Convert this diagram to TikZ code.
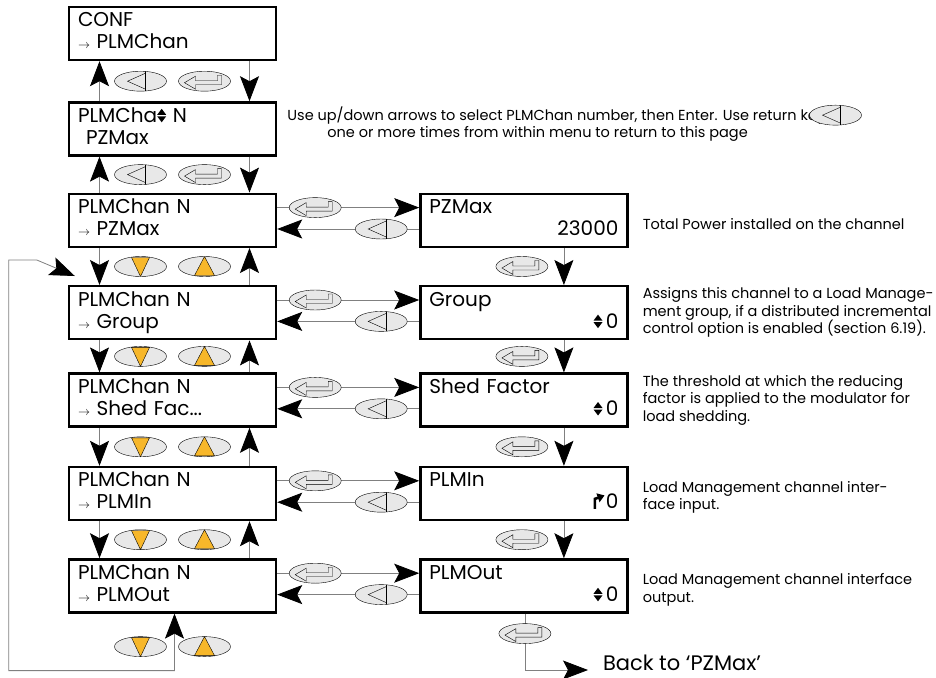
\documentclass[tikz,border=0pt]{standalone}
\usepackage{fontspec}
\setmainfont{Poppins}
\usetikzlibrary{arrows.meta,positioning,shapes.geometric,calc}

\definecolor{keyyellow}{HTML}{F7B72A}
\definecolor{keygray}{HTML}{E8E8E8}
\definecolor{linegray}{HTML}{808080}

\newcommand{\updn}{\tikz[baseline=0pt,x=1pt,y=1pt]{\fill (0,6)--(9,6)--(4.5,0)--cycle; \fill (0,7.5)--(9,7.5)--(4.5,13.5)--cycle;}}
\newcommand{\inarr}{\tikz[baseline=0pt,x=1pt,y=1pt]{\draw[line width=2.6pt,-{Triangle[length=7pt,width=9pt]}] (1.3,0)--(1.3,10)--(11,13.5);}}
\newcommand{\sel}{{\fontsize{13}{13}\selectfont$\rightarrow$}\ }

\begin{document}
\begin{tikzpicture}[
    x=1pt, y=-1pt,
    box/.style={draw, line width=2.4pt, minimum width=207pt, minimum height=53pt, text width=189pt, inner xsep=9pt, align=left, font=\fontsize{20}{22}\selectfont, execute at begin node=\strut, execute at end node=\strut},
    note/.style={inner sep=0pt, align=left, font=\fontsize{14.5}{17.5}\selectfont},
    key/.style={ellipse, draw, thin, fill=keygray, minimum width=52pt, minimum height=20pt, inner sep=0pt},
    backkey/.style={key, path picture={\begin{scope}[shift={(path picture bounding box.center)}]
        \draw[thin] (-13,0) -- (5,-8) -- (5,8) -- cycle; \draw[thin] (5,-12) -- (5,12);
      \end{scope}}},
    enterkey/.style={key, path picture={\begin{scope}[shift={(path picture bounding box.center)}]
        \draw[thin] (-20,1.5) -- (-9,-5) -- (-9,-0.5) -- (13,-0.5) -- (13,-6) -- (17,-6) -- (17,3.5) -- (-9,3.5) -- (-9,8) -- cycle;
      \end{scope}}},
    downkey/.style={key, path picture={\begin{scope}[shift={(path picture bounding box.center)}]
        \filldraw[thin, fill=keyyellow] (-9,-9) -- (9,-9) -- (0,10) -- cycle;
      \end{scope}}},
    upkey/.style={key, path picture={\begin{scope}[shift={(path picture bounding box.center)}]
        \filldraw[thin, fill=keyyellow] (0,-10) -- (-10,9) -- (10,9) -- cycle;
      \end{scope}}},
    tip/.tip={Stealth[length=25pt, width=19pt, inset=5pt, color=black]},
    arrow/.style={draw=linegray, line width=0.8pt, -tip},
    twoarrow/.style={draw=linegray, line width=0.8pt, tip-tip}
  ]
  \useasboundingbox (0,0) rectangle (936,677);

  % menu column
  \node[box] (conf) at (172.5,33.5) {CONF\\\sel PLMChan};
  \node[box, below=40pt of conf] (chan) {PLMCha\updn\ N\\\hspace*{8pt}PZMax};
  \node[box, below=36pt of chan] (pzmax) {PLMChan N\\\sel PZMax};
  \node[box, below=37pt of pzmax] (group) {PLMChan N\\\sel Group};
  \node[box, below=32pt of group] (shed) {PLMChan N\\\sel Shed Fac...};
  \node[box, below=38pt of shed] (plmin) {PLMChan N\\\sel PLMIn};
  \node[box, below=37pt of plmin] (plmout) {PLMChan N\\\sel PLMOut};

  % value column
  \node[box, right=142pt of pzmax] (pzval) {PZMax\\\mbox{}\hfill 23000};
  \node[box, right=142pt of group] (grpval) {Group\\\mbox{}\hfill\updn\,0};
  \node[box, right=142pt of shed] (shedval) {Shed Factor\\\mbox{}\hfill\updn\,0};
  \node[box, right=142pt of plmin] (inval) {PLMIn\\\mbox{}\hfill\inarr0};
  \node[box, right=142pt of plmout] (outval) {PLMOut\\\mbox{}\hfill\updn\,0};

  % notes
  \node[note, right=10pt of chan, yshift=5pt] (hint) {Use up/down arrows to select PLMChan number, then Enter. Use return key\\\hspace*{40pt}one or more times from within menu to return to this page};
  \node[note, right=14pt of pzval, yshift=-4pt] (pznote) {Total Power installed on the channel};
  \node[note, right=14pt of grpval] (grpnote) {Assigns this channel to a Load Manage-\\ment group, if a distributed incremental\\control option is enabled (section 6.19).};
  \node[note, right=14pt of shedval] (shednote) {The threshold at which the reducing\\factor is applied to the modulator for\\load shedding.};
  \node[note, right=14pt of inval, yshift=-4pt] (innote) {Load Management channel inter-\\face input.};
  \node[note, right=14pt of outval, yshift=-4pt] (outnote) {Load Management channel interface\\output.};
  \node[anchor=base west, inner sep=0pt, outer sep=15pt, font=\fontsize{21}{24}\selectfont] (back) at (588,670) {Back to ‘PZMax’};

  % up and down the menu
  \draw[arrow] ([xshift=-73pt]chan.north) -- ([xshift=-73pt]conf.south);
  \draw[arrow] ([xshift=77pt]conf.south) -- ([xshift=77pt]chan.north);
  \draw[arrow] ([xshift=-73pt]pzmax.north) -- ([xshift=-73pt]chan.south);
  \draw[arrow] ([xshift=77pt]chan.south) -- ([xshift=77pt]pzmax.north);
  \draw[arrow] ([xshift=-73pt]pzmax.south) -- ([xshift=-73pt]group.north);
  \draw[arrow] ([xshift=77pt]group.north) -- ([xshift=77pt]pzmax.south);
  \draw[arrow] ([xshift=-73pt]group.south) -- ([xshift=-73pt]shed.north);
  \draw[arrow] ([xshift=77pt]shed.north) -- ([xshift=77pt]group.south);
  \draw[arrow] ([xshift=-73pt]shed.south) -- ([xshift=-73pt]plmin.north);
  \draw[arrow] ([xshift=77pt]plmin.north) -- ([xshift=77pt]shed.south);
  \draw[arrow] ([xshift=-73pt]plmin.south) -- ([xshift=-73pt]plmout.north);
  \draw[arrow] ([xshift=77pt]plmout.north) -- ([xshift=77pt]plmin.south);

  % into and out of the values
  \draw[arrow] ([yshift=-15pt]pzmax.north east) -- ([yshift=-15pt]pzval.north west);
  \draw[arrow] ([yshift=19pt]pzval.south west) -- ([yshift=19pt]pzmax.south east);
  \draw[arrow] ([yshift=-15pt]group.north east) -- ([yshift=-15pt]grpval.north west);
  \draw[arrow] ([yshift=19pt]grpval.south west) -- ([yshift=19pt]group.south east);
  \draw[arrow] ([yshift=-15pt]shed.north east) -- ([yshift=-15pt]shedval.north west);
  \draw[arrow] ([yshift=19pt]shedval.south west) -- ([yshift=19pt]shed.south east);
  \draw[arrow] ([yshift=-15pt]plmin.north east) -- ([yshift=-15pt]inval.north west);
  \draw[arrow] ([yshift=19pt]inval.south west) -- ([yshift=19pt]plmin.south east);
  \draw[arrow] ([yshift=-15pt]plmout.north east) -- ([yshift=-15pt]outval.north west);
  \draw[arrow] ([yshift=19pt]outval.south west) -- ([yshift=19pt]plmout.south east);

  % down the values
  \draw[arrow] ([xshift=40pt]pzval.south) -- ([xshift=40pt]grpval.north);
  \draw[arrow] ([xshift=40pt]grpval.south) -- ([xshift=40pt]shedval.north);
  \draw[arrow] ([xshift=40pt]shedval.south) -- ([xshift=40pt]inval.north);
  \draw[arrow] ([xshift=40pt]inval.south) -- ([xshift=40pt]outval.north);
  \draw[arrow] ([xshift=1pt]outval.south) |- (back.base west);

  % wrap round
  \coordinate (loopin) at ([xshift=7pt, yshift=9pt]group.north west);
  \draw[twoarrow] (loopin) -- ++(-38,-16) -- ++(-28,0) |- ([xshift=2pt, yshift=-57pt]plmout.south) -- ([xshift=2pt]plmout.south);

  % keys
  \node[backkey, xshift=-32pt] (k1) at ($(conf.south)!.5!(chan.north)$) {};
  \node[enterkey, xshift=32pt] (k2) at ($(conf.south)!.5!(chan.north)$) {};
  \node[backkey, xshift=-32pt] (k3) at ($(chan.south)!.5!(pzmax.north)$) {};
  \node[enterkey, xshift=32pt] (k4) at ($(chan.south)!.5!(pzmax.north)$) {};
  \node[downkey, xshift=-32pt] (k5) at ($(pzmax.south)!.5!(group.north)$) {};
  \node[upkey, xshift=32pt] (k6) at ($(pzmax.south)!.5!(group.north)$) {};
  \node[downkey, xshift=-32pt] (k7) at ($(group.south)!.5!(shed.north)$) {};
  \node[upkey, xshift=32pt] (k8) at ($(group.south)!.5!(shed.north)$) {};
  \node[downkey, xshift=-32pt] (k9) at ($(shed.south)!.5!(plmin.north)$) {};
  \node[upkey, xshift=32pt] (k10) at ($(shed.south)!.5!(plmin.north)$) {};
  \node[downkey, xshift=-32pt] (k11) at ($(plmin.south)!.5!(plmout.north)$) {};
  \node[upkey, xshift=32pt] (k12) at ($(plmin.south)!.5!(plmout.north)$) {};
  \node[downkey, xshift=-32pt] (k13) at ([yshift=-33pt]plmout.south) {};
  \node[upkey, xshift=32pt] (k14) at ([yshift=-33pt]plmout.south) {};

  \node[enterkey] (p1) at ([xshift=38pt, yshift=-15pt]pzmax.north east) {};
  \node[backkey] (p2) at ([xshift=-38pt, yshift=19pt]pzval.south west) {};
  \node[enterkey] (p3) at ([xshift=38pt, yshift=-15pt]group.north east) {};
  \node[backkey] (p4) at ([xshift=-38pt, yshift=19pt]grpval.south west) {};
  \node[enterkey] (p5) at ([xshift=38pt, yshift=-15pt]shed.north east) {};
  \node[backkey] (p6) at ([xshift=-38pt, yshift=19pt]shedval.south west) {};
  \node[enterkey] (p7) at ([xshift=38pt, yshift=-15pt]plmin.north east) {};
  \node[backkey] (p8) at ([xshift=-38pt, yshift=19pt]inval.south west) {};
  \node[enterkey] (p9) at ([xshift=38pt, yshift=-15pt]plmout.north east) {};
  \node[backkey] (p10) at ([xshift=-38pt, yshift=19pt]outval.south west) {};

  \node[enterkey, xshift=-2pt] (v1) at ($(pzval.south)!.5!(grpval.north)$) {};
  \node[enterkey, xshift=-2pt] (v2) at ($(grpval.south)!.5!(shedval.north)$) {};
  \node[enterkey, xshift=-2pt] (v3) at ($(shedval.south)!.5!(inval.north)$) {};
  \node[enterkey, xshift=-2pt] (v4) at ($(inval.south)!.5!(outval.north)$) {};
  \node[enterkey] (v5) at ([xshift=1pt, yshift=-20pt]outval.south) {};

  \node[backkey, anchor=west] (hintkey) at ([xshift=-16pt, yshift=-9pt]hint.north east) {};
\end{tikzpicture}
\end{document}
